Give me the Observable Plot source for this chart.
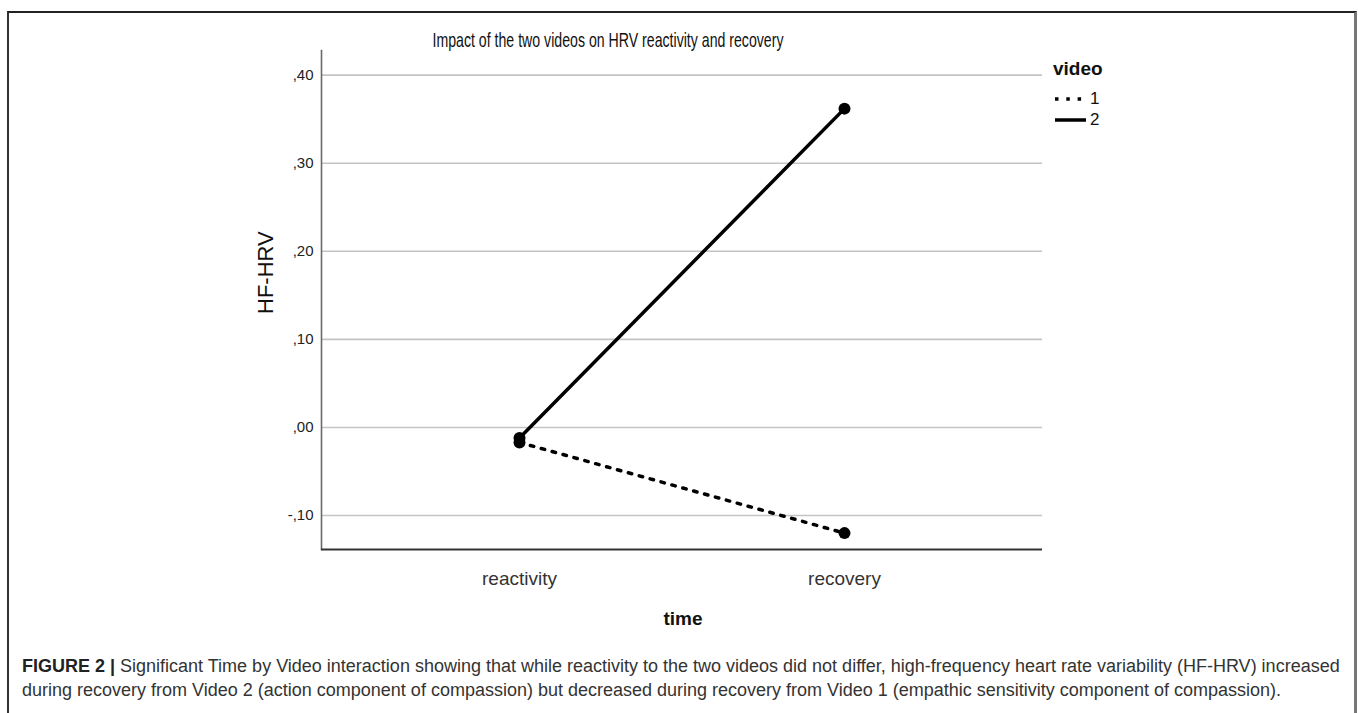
<!DOCTYPE html>
<html><head><meta charset="utf-8">
<script src="https://cdn.jsdelivr.net/npm/d3@7"></script>
<script src="https://cdn.jsdelivr.net/npm/@observablehq/plot@0.6"></script>
<style>
body{margin:0;background:#fff;font-family:"Liberation Sans",Arial,sans-serif;}
#wrap{position:relative;width:1358px;height:713px;overflow:hidden;background:#fff;}
#frame{position:absolute;left:7px;top:11px;width:1345px;height:800px;border-top:2px solid #222;border-left:2px solid #333;border-right:3px solid #777;}
#chart{position:absolute;left:0;top:0;}
#legend{position:absolute;left:1053px;top:58px;color:#111;}
#legend .ttl{font-weight:bold;font-size:19px;line-height:22px;margin-bottom:8px;}
#legend .row{display:flex;align-items:center;height:21px;font-size:17px;}
#legend svg{margin-right:3px;}
#caption{position:absolute;left:22px;top:654px;font-size:18px;line-height:24px;color:#333;white-space:nowrap;}
#caption b{color:#222;}
</style></head>
<body>
<div id="wrap">
  <div id="frame"></div>
  <div id="chart"></div>
  <div id="legend"></div>
  <div id="caption"></div>
</div>
<script>
const times = ["reactivity", "recovery"];
const videos = ["1", "2"];
const video1 = [-0.017, -0.120];
const video2 = [-0.012, 0.362];
const yTicks = [-0.10, 0.00, 0.10, 0.20, 0.30, 0.40];
const yDomain = [-0.1386, 0.428];
const title = "Impact of the two videos on HRV reactivity and recovery";
const yLabel = "HF-HRV";
const xLabel = "time";
const legendTitle = "video";
const captionBold = "FIGURE 2 |";
const captionLines = [
  " Significant Time by Video interaction showing that while reactivity to the two videos did not differ, high-frequency heart rate variability (HF-HRV) increased",
  "during recovery from Video 2 (action component of compassion) but decreased during recovery from Video 1 (empathic sensitivity component of compassion)."
];

const rows = times.flatMap((t, i) => [
  {time: t, video: videos[0], value: video1[i]},
  {time: t, video: videos[1], value: video2[i]}
]);
const fmt = d => (d < -1e-9 ? "-" : "") + "," + String(Math.round(Math.abs(d) * 100)).padStart(2, "0");
const DOT = "3.5,7.8";

const chart = Plot.plot({
  width: 1358, height: 640,
  marginLeft: 321, marginRight: 316, marginTop: 50, marginBottom: 91,
  style: {fontFamily: "'Liberation Sans', Arial, sans-serif", background: "transparent"},
  x: {type: "point", domain: times, padding: 0.606},
  y: {domain: yDomain, ticks: yTicks},
  marks: [
    Plot.gridY(yTicks, {stroke: "#c4c4c4", strokeWidth: 1.6, strokeOpacity: 1}),
    Plot.frame({anchor: "left", stroke: "#6a6a6a", strokeWidth: 1.6}),
    Plot.ruleY([yDomain[0]], {stroke: "#333", strokeWidth: 2}),
    Plot.axisY(yTicks, {tickSize: 0, tickPadding: 8, tickFormat: fmt, label: null, fontSize: 15, fill: "#222"}),
    Plot.axisX({tickSize: 0, tickPadding: 22, label: null, fontSize: 19, fill: "#333"}),
    Plot.line(rows.filter(d => d.video === "1"), {x: "time", y: "value", stroke: "#000", strokeWidth: 3.5, strokeDasharray: DOT}),
    Plot.line(rows.filter(d => d.video === "2"), {x: "time", y: "value", stroke: "#000", strokeWidth: 3.5}),
    Plot.dot(rows, {x: "time", y: "value", r: 6, fill: "#000", stroke: "none"}),
    Plot.text([title], {text: d => d, frameAnchor: "top", dx: -74, dy: -18, fontSize: 21, fill: "#111", className: "ttl"}),
    Plot.text([yLabel], {text: d => d, frameAnchor: "left", dx: -56, dy: 14, rotate: -90, fontSize: 22, fill: "#111"}),
    Plot.text([xLabel], {text: d => d, frameAnchor: "bottom", dx: 1, dy: 75, fontSize: 19, fontWeight: "bold", fill: "#111"})
  ]
});
document.getElementById("chart").appendChild(chart);
// condense title to reference width
d3.select(chart).selectAll("g.ttl text").attr("textLength", 351).attr("lengthAdjust", "spacingAndGlyphs");

// legend
const lg = document.getElementById("legend");
lg.innerHTML = `<div class="ttl">${legendTitle}</div>` +
  videos.map(v => `<div class="row"><svg width="34" height="8"><line x1="2" x2="33" y1="4" y2="4" stroke="#000" stroke-width="3.5" ${v === "1" ? `stroke-dasharray="${DOT}"` : ''}/></svg><span>${v}</span></div>`).join("");

// caption
document.getElementById("caption").innerHTML = `<b>${captionBold}</b>${captionLines[0]}<br>${captionLines[1]}`;
</script>
</body></html>
